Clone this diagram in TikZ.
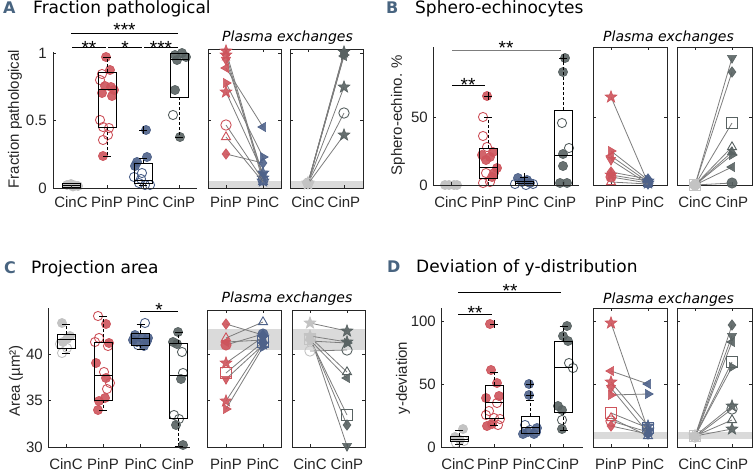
\documentclass[tikz,border=0pt]{standalone}
\usepackage{fontspec}
\setmainfont{Liberation Sans}
\newfontfamily\ttl{DejaVu Sans}
\usetikzlibrary{plotmarks}
\definecolor{cR}{RGB}{206,84,92}
\definecolor{cN}{RGB}{78,98,138}
\definecolor{cD}{RGB}{88,98,98}
\definecolor{cL}{RGB}{195,195,195}
\definecolor{cLine}{RGB}{125,125,125}
\definecolor{cBand}{RGB}{218,218,218}
\definecolor{cAx}{RGB}{38,38,38}
\definecolor{cLab}{RGB}{72,100,128}
\pgfdeclareplotmark{pstar}{%
 \pgfpathmoveto{\pgfpointpolar{90}{1.2\pgfplotmarksize}}%
 \pgfpathlineto{\pgfpointpolar{126}{0.5\pgfplotmarksize}}%
 \pgfpathlineto{\pgfpointpolar{162}{1.2\pgfplotmarksize}}%
 \pgfpathlineto{\pgfpointpolar{198}{0.5\pgfplotmarksize}}%
 \pgfpathlineto{\pgfpointpolar{234}{1.2\pgfplotmarksize}}%
 \pgfpathlineto{\pgfpointpolar{270}{0.5\pgfplotmarksize}}%
 \pgfpathlineto{\pgfpointpolar{306}{1.2\pgfplotmarksize}}%
 \pgfpathlineto{\pgfpointpolar{342}{0.5\pgfplotmarksize}}%
 \pgfpathlineto{\pgfpointpolar{18}{1.2\pgfplotmarksize}}%
 \pgfpathlineto{\pgfpointpolar{54}{0.5\pgfplotmarksize}}%
 \pgfpathclose\pgfusepathqfillstroke}
\tikzset{
 ax/.style={draw=cAx, line width=0.8},
 bxs/.style={draw=black, line width=0.8},
 whs/.style={draw=black, line width=0.8, dash pattern=on 3pt off 2pt},
 exline/.style={draw=cLine, line width=0.8},
 fR/.style={draw=cR, fill=cR, fill opacity=0.9, line width=0.6},
 oR/.style={draw=cR, line width=0.9},
 fN/.style={draw=cN, fill=cN, fill opacity=0.9, line width=0.6},
 oN/.style={draw=cN, line width=0.9},
 fD/.style={draw=cD, fill=cD, fill opacity=0.9, line width=0.6},
 oD/.style={draw=cD, line width=0.9},
 fL/.style={draw=cL, fill=cL, line width=0.6},
 oL/.style={draw=cL, line width=0.9},
 tick/.style={font=\fontsize{15}{17}\selectfont, text=cAx, inner sep=0pt},
 ttlst/.style={font=\ttl\fontsize{17}{19}\selectfont, anchor=base west, inner sep=0pt},
 letst/.style={font=\ttl\bfseries\fontsize{16}{18}\selectfont, text=cLab, anchor=base west, inner sep=0pt},
 pe/.style={font=\ttl\itshape\fontsize{14}{16}\selectfont, anchor=base, inner sep=0pt},
 sig/.style={font=\fontsize{19}{21}\selectfont, anchor=base, inner sep=0pt},
}
\newcommand\bxp[4]{\draw[bxs] (#1-9,#2) rectangle (#1+9,#3); \draw[bxs] (#1-9,#4) -- (#1+9,#4);}
\newcommand\whk[3]{\draw[whs] (#1,#2) -- (#1,#3); \draw[bxs] (#1-4,#3) -- (#1+4,#3);}
\newcommand\plm[2]{\draw[bxs] (#1-4,#2) -- (#1+4,#2) (#1,#2-4) -- (#1,#2+4);}
\newcommand\scat[3]{\draw plot[only marks, mark=#1, mark size=4.6, mark options={#2}] coordinates {#3};}
\newcommand\pr[8]{\draw[exline] (#1,#2) -- (#3,#4);
 \draw plot[only marks, mark=#5, mark size=5.2, mark options={#7,#6}] coordinates {(#1,#2)};
 \draw plot[only marks, mark=#5, mark size=5.2, mark options={#8,#6}] coordinates {(#3,#4)};}
\newcommand\exbox[7]{\draw[ax] (#1,#3) rectangle (#2,#4);
 \foreach \t in {#7} {\draw[ax] (#1,\t) -- ++(3,0); \draw[ax] (#2,\t) -- ++(-3,0);}
 \foreach \t in {#5,#6} {\draw[ax] (\t,#4) -- ++(0,-3); \draw[ax] (\t,#3) -- ++(0,3);}}
\begin{document}
\begin{tikzpicture}[x=1pt,y=-1pt]
\useasboundingbox (0,0) rectangle (756,472);
\fill[white] (0,0) rectangle (756,472);
% ================= Panel A =================
\node[letst] (LA) at (3,13) {A};
\node[ttlst] (TA) at (33,13) {Fraction pathological};
\node[tick, rotate=90] (YA) at (15,119) {Fraction pathological};
\node[tick, anchor=east] (A1) at (47,53) {1};
\node[tick, anchor=east] (A2) at (47,120.5) {0.5};
\node[tick, anchor=east] (A3) at (47,188) {0};
\node[tick] (AX1) at (71,202) {CinC};
\node[tick] (AX2) at (107,202) {PinP};
\node[tick] (AX3) at (143,202) {PinC};
\node[tick] (AX4) at (179,202) {CinP};
\draw[bxs] (71,33) -- (178,33);
\node[sig] (SA1) at (124.5,36.5) {***};
\draw[bxs] (72,47.5) -- (106,47.5);
\draw[bxs] (108,47.5) -- (142,47.5);
\draw[bxs] (144,47.5) -- (178,47.5);
\node[sig] (SA2) at (89,54.5) {**};
\node[sig] (SA3) at (125,54.5) {*};
\node[sig] (SA4) at (161,54.5) {***};
\scat{*}{fL}{(67,185) (71,184) (75,185.5) (78,186) (73,186.5)}
\scat{*}{fR}{(106,57) (110,70) (111,87) (105,86) (114,90) (102,93) (112,96) (103,156)}
\scat{o}{oR}{(102,74) (100,80) (100,120) (103,127) (109,128) (108,135) (103,140)}
\scat{*}{fN}{(146,130) (147,157) (137,162) (135,166)}
\scat{o}{oN}{(142,173) (134,177) (139,183) (145,185) (150,185) (141,179)}
\scat{*}{fD}{(175,55) (182,53) (186,57) (177,60) (175,90) (180,137)}
\scat{o}{oD}{(173,115)}
\bxp{71}{183}{187}{185}
\bxp{107}{72}{127}{89}\whk{107}{72}{57}\whk{107}{127}{156}
\bxp{143}{163}{183}{180}\whk{143}{163}{158}\whk{143}{183}{185}\plm{143}{130}
\bxp{179}{53}{97}{59}\whk{179}{97}{137}
\draw[ax] (53,52) -- (53,188) -- (197,188);
\foreach \t in {53,120.5} \draw[ax] (53,\t) -- ++(3,0);
\foreach \t in {71,107,143,179} \draw[ax] (\t,188) -- ++(0,-3);
% exchanges A
\node[pe] (PEA) at (287.5,41) {Plasma exchanges};
\fill[cBand] (208,181) rectangle (281,188);
\fill[cBand] (290,181) rectangle (363,188);
\exbox{208}{281}{49}{188}{226}{263}{53,120.5}
\exbox{290}{363}{49}{188}{308}{344}{53,120.5}
\node[tick] (EA1) at (226,202) {PinP};
\node[tick] (EA2) at (263,202) {PinC};
\node[tick] (EA3) at (308,202) {CinC};
\node[tick] (EA4) at (344,202) {CinP};
\pr{226}{51}{263}{178}{pstar}{}{fR}{fN}
\pr{226}{55}{263}{181}{pstar}{}{fR}{fN}
\pr{226}{60}{263}{175}{triangle*}{rotate=180}{fR}{fN}
\pr{226}{68}{263}{127}{triangle*}{rotate=90}{fR}{fN}
\pr{226}{83}{263}{157}{triangle*}{rotate=-90}{fR}{fN}
\pr{226}{92}{263}{173}{pstar}{}{fR}{fN}
\pr{226}{125}{263}{180}{o}{}{oR}{oN}
\pr{226}{137}{263}{182}{triangle}{}{oR}{oN}
\pr{226}{154}{263}{163}{diamond*}{}{fR}{fN}
\pr{308}{183}{344}{52}{pstar}{}{fL}{fD}
\pr{308}{184}{344}{54}{diamond*}{}{fL}{fD}
\pr{308}{183}{344}{53}{triangle*}{rotate=180}{fL}{fD}
\pr{308}{183}{344}{56}{triangle*}{rotate=90}{fL}{fD}
\pr{308}{183}{344}{55}{triangle*}{rotate=-90}{fL}{fD}
\pr{308}{183}{344}{87}{pstar}{}{fL}{fD}
\pr{308}{183}{344}{113}{o}{}{oL}{oD}
\pr{308}{184}{344}{135}{pstar}{}{fL}{fD}
% ================= Panel B =================
\node[letst] (LB) at (386,13) {B};
\node[ttlst] (TB) at (415,13) {Sphero-echinocytes};
\node[tick, rotate=90] (YB) at (398,115) {Sphero-echino. \%};
\node[tick, anchor=east] (B1) at (428,117) {50};
\node[tick, anchor=east] (B2) at (428,185) {0};
\node[tick] (BX1) at (451,202) {CinC};
\node[tick] (BX2) at (487,202) {PinP};
\node[tick] (BX3) at (523,202) {PinC};
\node[tick] (BX4) at (560,202) {CinP};
\draw[draw=cLine, line width=0.9] (452,50) -- (561,50);
\node[sig] (SB1) at (506,54.5) {**};
\draw[bxs] (452,85) -- (485,85);
\node[sig] (SB2) at (468,91) {**};
\scat{*}{fL}{(445,185) (449,185) (454,185) (457,185)}
\scat{*}{fR}{(487,96) (493,152) (490,157) (482,155) (486,160) (494,173) (492,177) (497,168)}
\scat{o}{oR}{(483,117) (483,136) (487,147) (486,173) (483,183) (490,182)}
\scat{*}{fN}{(518,178) (527,180) (522,182) (530,183)}
\scat{o}{oN}{(515,184) (526,185) (533,184)}
\scat{*}{fD}{(565,58) (563,72) (563,154) (563,166) (560,183) (567,183)}
\scat{o}{oD}{(562,123) (569,148)}
\draw[bxs] (442,185) -- (460,185);
\bxp{488}{148}{178}{167}\whk{488}{148}{117}\whk{488}{178}{185}\plm{488}{96}
\bxp{524}{181}{185}{183}\whk{524}{181}{177}\plm{524}{177}
\bxp{563}{110}{185}{155}\whk{563}{110}{58}\plm{563}{58}
\draw[ax] (433,47) -- (433,185) -- (579,185);
\draw[ax] (433,117) -- ++(3,0);
\foreach \t in {451,488,524,563} \draw[ax] (\t,185) -- ++(0,-3);
% exchanges B
\node[pe] (PEB) at (668.5,41) {Plasma exchanges};
\exbox{593}{667}{47}{185}{611}{648}{117}
\exbox{677}{752}{47}{185}{695}{732}{117}
\node[tick] (EB1) at (611,202) {PinP};
\node[tick] (EB2) at (648,202) {PinC};
\node[tick] (EB3) at (695,202) {CinC};
\node[tick] (EB4) at (732,202) {CinP};
\pr{611}{97}{648}{183}{pstar}{}{fR}{fN}
\pr{611}{151}{648}{180}{triangle*}{rotate=-90}{fR}{fN}
\pr{611}{156}{648}{182}{triangle*}{rotate=90}{fR}{fN}
\pr{611}{160}{648}{184}{triangle*}{rotate=180}{fR}{fN}
\pr{611}{172}{648}{179}{diamond*}{}{fR}{fN}
\pr{611}{175}{648}{181}{pstar}{}{fR}{fN}
\pr{611}{177}{648}{183}{*}{}{fR}{fN}
\pr{611}{182}{648}{184}{triangle}{}{oR}{oN}
\pr{695}{185}{732}{58}{triangle*}{rotate=180}{fL}{fD}
\pr{695}{185}{732}{72}{diamond*}{}{fL}{fD}
\pr{695}{185}{732}{123}{square}{}{oL}{oD}
\pr{695}{185}{732}{147}{triangle}{}{oL}{oD}
\pr{695}{185}{732}{152}{triangle*}{}{fL}{fD}
\pr{695}{185}{732}{155}{triangle*}{rotate=-90}{fL}{fD}
\pr{695}{185}{732}{167}{triangle*}{rotate=90}{fL}{fD}
\pr{695}{185}{732}{183}{*}{}{fL}{fD}
% ================= Panel C =================
\node[letst] (LC) at (4,273) {C};
\node[ttlst] (TC) at (31,273) {Projection area};
\node[tick, rotate=90] (YC) at (16,381) {Area (µm²)};
\node[tick, anchor=east] (C1) at (43,354) {40};
\node[tick, anchor=east] (C2) at (43,400.7) {35};
\node[tick, anchor=east] (C3) at (43,447) {30};
\node[tick] (CX1) at (66,464) {CinC};
\node[tick] (CX2) at (103,464) {PinP};
\node[tick] (CX3) at (141,464) {PinC};
\node[tick] (CX4) at (178,464) {CinP};
\draw[bxs] (140,311) -- (178,311);
\node[sig] (SC1) at (159,316) {*};
\scat{*}{fL}{(62,323) (67,339) (70,336) (63,342)}
\scat{o}{oL}{(60,344) (67,348) (62,353)}
\scat{*}{fR}{(106,324) (109,343) (96,363) (106,378) (99,401) (105,398) (98,410)}
\scat{o}{oR}{(98,316) (99,338) (95,342) (108,346) (110,383) (107,389) (104,372)}
\scat{*}{fN}{(135,335) (142,338) (147,341) (137,342) (144,346) (133,340) (148,338)}
\scat{o}{oN}{(145,323) (138,345)}
\scat{*}{fD}{(178,332) (173,342) (177,344) (181,379) (176,425) (183,445)}
\scat{o}{oD}{(182,352) (183,373) (174,415) (179,419)}
\bxp{66}{334}{348}{339}\whk{66}{334}{324}\whk{66}{348}{353}
\bxp{103}{342}{400}{375}\whk{103}{342}{316}\whk{103}{400}{410}
\bxp{140.5}{333}{345}{338}\whk{140.5}{333}{324}\whk{140.5}{345}{349}
\bxp{178.5}{343}{418}{375}\whk{178.5}{343}{332}\whk{178.5}{418}{446}
\draw[ax] (48,308) -- (48,447) -- (190,447);
\foreach \t in {354,400.7} \draw[ax] (48,\t) -- ++(3,0);
\foreach \t in {66,103,140.5,178.5} \draw[ax] (\t,447) -- ++(0,-3);
% exchanges C
\node[pe] (PEC) at (287,302) {Plasma exchanges};
\fill[cBand] (207,329) rectangle (281,350);
\fill[cBand] (292,329) rectangle (365,350);
\exbox{207}{281}{310}{447}{226}{263}{354,400.7}
\exbox{292}{365}{310}{447}{310}{347}{354,400.7}
\node[tick] (EC1) at (226,464) {PinP};
\node[tick] (EC2) at (263,464) {PinC};
\node[tick] (EC3) at (310,464) {CinC};
\node[tick] (EC4) at (347,464) {CinP};
\pr{226}{324}{263}{335}{diamond*}{}{fR}{fN}
\pr{226}{338}{263}{322}{triangle}{}{oR}{oN}
\pr{226}{342}{263}{340}{triangle*}{rotate=90}{fR}{fN}
\pr{226}{345}{263}{334}{*}{}{fR}{fN}
\pr{226}{363}{263}{337}{pstar}{}{fR}{fN}
\pr{226}{373}{263}{342}{square}{}{oR}{oN}
\pr{226}{379}{263}{345}{triangle*}{rotate=180}{fR}{fN}
\pr{226}{401}{263}{344}{pstar}{}{fR}{fN}
\pr{226}{409}{263}{347}{triangle*}{rotate=-90}{fR}{fN}
\pr{310}{323}{347}{331}{pstar}{}{fL}{fD}
\pr{310}{336}{347}{446}{triangle*}{rotate=180}{fL}{fD}
\pr{310}{338}{347}{425}{diamond*}{}{fL}{fD}
\pr{310}{339}{347}{415}{square}{}{oL}{oD}
\pr{310}{340}{347}{378}{triangle*}{rotate=90}{fL}{fD}
\pr{310}{337}{347}{372}{triangle}{}{oL}{oD}
\pr{310}{336}{347}{342}{pstar}{}{fL}{fD}
\pr{310}{341}{347}{343}{triangle*}{rotate=-90}{fL}{fD}
\pr{310}{351}{347}{350}{o}{}{oL}{oD}
% ================= Panel D =================
\node[letst] (LD) at (387,272) {D};
\node[ttlst] (TD) at (416,272) {Deviation of y-distribution};
\node[tick, rotate=90] (YD) at (403,378) {y-deviation};
\node[tick, anchor=east] (D1) at (436,321) {100};
\node[tick, anchor=east] (D2) at (436,384) {50};
\node[tick, anchor=east] (D3) at (436,447) {0};
\node[tick] (DX1) at (458,464) {CinC};
\node[tick] (DX2) at (493,464) {PinP};
\node[tick] (DX3) at (529,464) {PinC};
\node[tick] (DX4) at (563,464) {CinP};
\draw[bxs] (458,292) -- (561,292);
\node[sig] (SD1) at (510,297) {**};
\draw[bxs] (458,314) -- (492,314);
\node[sig] (SD2) at (475,319) {**};
\scat{*}{fL}{(463,429) (455,437) (460,440)}
\scat{o}{oL}{(464,441) (456,443)}
\scat{*}{fR}{(490,324) (491,370) (497,383) (499,396) (487,426) (492,424) (486,398)}
\scat{o}{oR}{(497,403) (489,411) (494,418) (500,419) (498,425) (486,415)}
\scat{*}{fN}{(529,384) (529,395) (523,434) (534,434) (528,432) (537,428)}
\scat{o}{oN}{(525,425) (530,430) (536,432)}
\scat{*}{fD}{(567,326) (563,336) (568,341) (558,406) (562,410) (562,429)}
\scat{o}{oD}{(569,363) (573,368) (562,420)}
\bxp{459}{436}{441}{439}\whk{459}{436}{430}\whk{459}{441}{444}
\bxp{494}{385}{418}{402}\whk{494}{385}{372}\whk{494}{418}{425}\plm{494}{324}
\bxp{530}{416}{433}{427}\whk{530}{416}{400}\plm{530}{384}\plm{530}{395}
\bxp{563.5}{341}{412}{367}\whk{563.5}{341}{326}\whk{563.5}{412}{430}
\draw[ax] (441,308) -- (441,447) -- (583,447);
\foreach \t in {321,384} \draw[ax] (441,\t) -- ++(3,0);
\foreach \t in {459,494,530,563.5} \draw[ax] (\t,447) -- ++(0,-3);
% exchanges D
\node[pe] (PED) at (668.5,303) {Plasma exchanges};
\fill[cBand] (593,432) rectangle (667,439);
\fill[cBand] (677,432) rectangle (752,439);
\exbox{593}{667}{308}{447}{611}{648}{321,384}
\exbox{677}{752}{308}{447}{695}{732}{321,384}
\node[tick] (ED1) at (611,464) {PinP};
\node[tick] (ED2) at (648,464) {PinC};
\node[tick] (ED3) at (695,464) {CinC};
\node[tick] (ED4) at (732,464) {CinP};
\pr{611}{323}{648}{430}{pstar}{}{fR}{fN}
\pr{611}{371}{648}{384}{triangle*}{rotate=90}{fR}{fN}
\pr{611}{382}{648}{426}{pstar}{}{fR}{fN}
\pr{611}{388}{648}{433}{triangle*}{rotate=180}{fR}{fN}
\pr{611}{395}{648}{394}{triangle*}{rotate=-90}{fR}{fN}
\pr{611}{413}{648}{428}{square}{}{oR}{oN}
\pr{611}{421}{648}{432}{o}{}{oR}{oN}
\pr{611}{418}{648}{436}{triangle}{}{oR}{oN}
\pr{611}{426}{648}{434}{diamond*}{}{fR}{fN}
\pr{695}{436}{732}{325}{diamond*}{}{fL}{fD}
\pr{695}{436}{732}{336}{triangle*}{rotate=180}{fL}{fD}
\pr{695}{437}{732}{342}{triangle*}{rotate=90}{fL}{fD}
\pr{695}{436}{732}{362}{square}{}{oL}{oD}
\pr{695}{436}{732}{367}{triangle*}{rotate=-90}{fL}{fD}
\pr{695}{436}{732}{406}{pstar}{}{fL}{fD}
\pr{695}{437}{732}{409}{o}{}{oL}{oD}
\pr{695}{436}{732}{420}{triangle}{}{oL}{oD}
\pr{695}{436}{732}{429}{pstar}{}{fL}{fD}
\end{tikzpicture}
\end{document}
